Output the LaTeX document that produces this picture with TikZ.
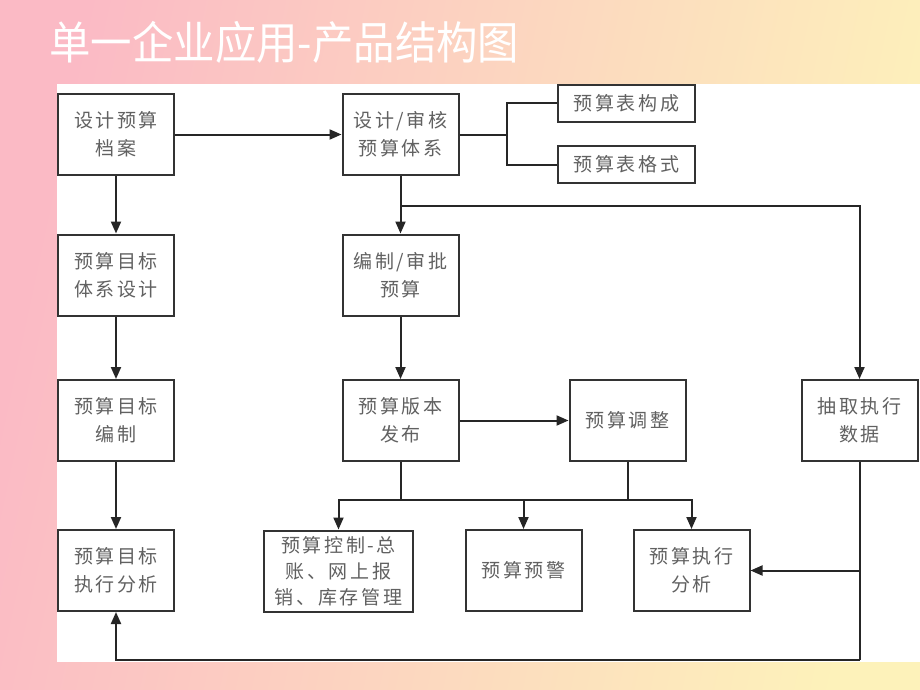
\documentclass[tikz,border=0pt]{standalone}
\usepackage{fontspec}
\usetikzlibrary{arrows.meta}
\newfontfamily\cjk[LetterSpace=14]{Noto Sans CJK SC}
\newfontfamily\titlefont{Noto Sans CJK SC}
\definecolor{pinkbg}{RGB}{251,186,197}
\definecolor{yellowbg}{RGB}{253,242,186}

\begin{document}
\begin{tikzpicture}[x=1pt,y=-1pt,
		box/.style={draw=black!80, line width=2pt, fill=white, text=black!62, align=center,
			font=\cjk\fontsize{19}{28}\selectfont, minimum width=116pt, minimum height=81pt, inner sep=0pt},
		smallbox/.style={box, minimum width=137pt, minimum height=37pt},
		link/.style={line width=2pt, draw=black!85},
		arr/.style={link, -{Triangle[width=10pt,length=12pt]}}]
		% background and panel
		\shade[top color=pinkbg, bottom color=yellowbg, shading angle=78] (0,0) rectangle (920,690);
		\useasboundingbox (0,0) rectangle (920,690);
		\fill[white] (57,84) rectangle (920,662);
		\node[anchor=west, text=white, font=\titlefont\fontsize{45}{45}\selectfont] (title) at (46,42) {\scalebox{0.92}[1]{单一企业应用-产品结构图}};
		% left column
		\node[box] (archive) at (116,134.5) {设计预算\\档案};
		\node[box] (targetsys) at (116,275) {预算目标\\体系设计};
		\node[box] (targetmake) at (116,420.5) {预算目标\\编制};
		\node[box] (targetanal) at (116,570.5) {预算目标\\执行分析};
		% middle column
		\node[box] (system) at (400.5,134.5) {设计/审核\\预算体系};
		\node[smallbox] (tablemake) at (626.5,103.5) {预算表构成};
		\node[smallbox] (tableform) at (626.5,164.5) {预算表格式};
		\node[box] (approve) at (400.5,275) {编制/审批\\预算};
		\node[box] (release) at (400.5,420.5) {预算版本\\发布};
		\node[box] (adjust) at (627.5,420.5) {预算调整};
		\node[box] (fetch) at (859.5,420.5) {抽取执行\\数据};
		% bottom row
		\node[box, minimum width=149pt, font=\cjk\fontsize{19}{26}\selectfont] (control) at (338.5,571) {预算控制-总\\账、网上报\\销、库存管理};
		\node[box] (warn) at (523.5,570.5) {预算预警};
		\node[box] (execanal) at (691.5,570.5) {预算执行\\分析};
		% connectors
		\coordinate (fk) at (507,134.5);
		\coordinate (sysdown) at (400.5,206);
		\coordinate (reldown) at (400.5,500);
		\coordinate (adjdown) at (627.5,500);
		\coordinate (fetchmid) at (859.5,570.5);
		\coordinate (fetchlow) at (859.5,660);
		\draw[arr] (archive) -- (system);
		\draw[link] (system) -- (fk);
		\draw[link] (fk) |- (tablemake);
		\draw[link] (fk) |- (tableform);
		\draw[arr] (archive) -- (targetsys);
		\draw[arr] (targetsys) -- (targetmake);
		\draw[arr] (targetmake) -- (targetanal);
		\draw[arr] (system) -- (approve);
		\draw[arr] (sysdown) -| (fetch);
		\draw[arr] (approve) -- (release);
		\draw[arr] (release) -- (adjust);
		\draw[link] (release) -- (reldown);
		\draw[link] (adjust) -- (adjdown);
		\draw[arr] (reldown) -| (control);
		\draw[arr] (reldown) -| (warn);
		\draw[arr] (reldown) -| (execanal);
		\draw[link] (fetch) -- (fetchlow);
		\draw[arr] (fetchmid) -- (execanal);
		\draw[arr] (fetchlow) -| (targetanal);
	\end{tikzpicture}
\end{document}
